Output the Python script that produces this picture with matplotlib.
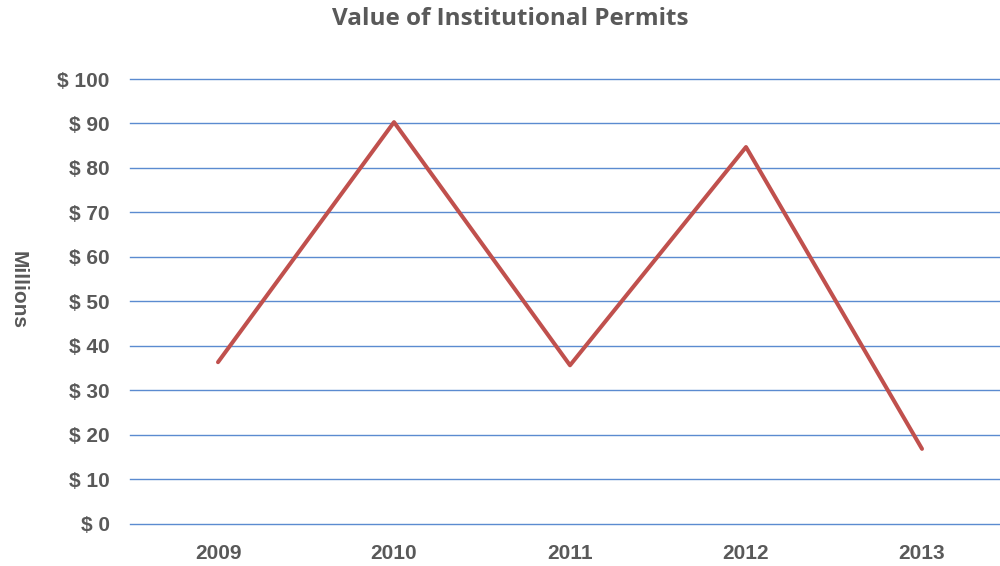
import matplotlib
matplotlib.use("Agg")
import matplotlib.pyplot as plt

years = ["2009", "2010", "2011", "2012", "2013"]
values = [36.3, 90.3, 35.6, 84.7, 16.8]
yticks = [0, 10, 20, 30, 40, 50, 60, 70, 80, 90, 100]
ytick_labels = ["$ 0", "$ 10", "$ 20", "$ 30", "$ 40", "$ 50", "$ 60", "$ 70", "$ 80", "$ 90", "$ 100"]

fig = plt.figure(figsize=(10, 5.66), dpi=100)
ax = fig.add_axes([0.13, 0.075, 0.88, 0.7854])

x = list(range(len(years)))
ax.plot(x, values, color="#C0504D", linewidth=2.9, solid_capstyle="round", zorder=3)

ax.set_xlim(-0.5, len(years) - 0.5)
ax.set_ylim(0, 100)
ax.set_yticks(yticks)
ax.set_yticklabels(ytick_labels)
ax.set_xticks(x)
ax.set_xticklabels(years)

for s in ax.spines.values():
    s.set_visible(False)
ax.grid(axis="y", color="#5B8BD0", linewidth=1.0)
ax.tick_params(axis="both", length=0)
ax.tick_params(axis="y", pad=14.5)
ax.tick_params(axis="x", pad=15)
for lab in ax.get_yticklabels() + ax.get_xticklabels():
    lab.set_fontfamily("Liberation Sans")
    lab.set_fontweight("bold")
    lab.set_fontsize(15)
    lab.set_color("#595959")

for line in ax.get_ygridlines():
    line.set_clip_on(False)

fig.text(0.51, 0.967, "Value of Institutional Permits", ha="center", va="center",
         fontfamily="Open Sans", fontweight="bold", fontsize=17.5, color="#595959")
fig.text(0.018, 0.487, "Millions", ha="center", va="center", rotation=270,
         fontfamily="Liberation Sans", fontweight="bold", fontsize=15, color="#595959")

fig.savefig("out.png", dpi=100)
